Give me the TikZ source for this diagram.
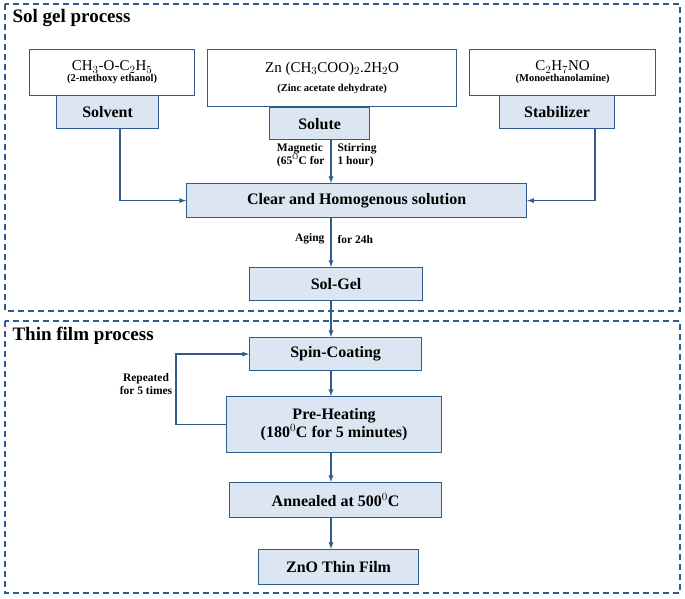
\documentclass[tikz,border=0pt]{standalone}
\usepackage{tikz}
\usepackage{fontspec}
\setmainfont{Liberation Serif}
\usetikzlibrary{calc}
\definecolor{edgeblue}{HTML}{2F5C8C}
\definecolor{paleblue}{HTML}{DCE6F2}
\tikzset{
  box/.style={draw=edgeblue,line width=1.2pt,inner sep=0pt},
  stage/.style={box,fill=paleblue,font=\bfseries\fontsize{16}{18}\selectfont},
  note/.style={font=\bfseries\fontsize{11.5}{13}\selectfont},
  flow/.style={draw=edgeblue,line width=1.3pt,-latex},
  frame/.style={draw=edgeblue,line width=1.6pt,dash pattern=on 6pt off 4pt}
}
\begin{document}
\begin{tikzpicture}[x=1pt,y=-1pt]
		\useasboundingbox (0,0) rectangle (685,598);
		\draw[frame] (5,4) rectangle (680,311);% Sol gel frame
		\draw[frame] (5,321) rectangle (680,593);% Thin film frame
		\node[anchor=north west,font=\bfseries\fontsize{19}{21}\selectfont] (solgel) at (9,6) {Sol gel process};
		\node[anchor=north west,font=\bfseries\fontsize{19}{21}\selectfont] (thinfilm) at (9,324) {Thin film process};

		% raw materials
		\node[box,minimum width=165pt,minimum height=46pt,anchor=north west,align=center] (ether) at (29,49)
			{\fontsize{15}{16}\selectfont CH$_3$-O-C$_2$H$_5$\\[-1pt]\bfseries\fontsize{10.5}{12}\selectfont (2-methoxy ethanol)};
		\node[stage,minimum width=102pt,minimum height=33pt,anchor=north west] (solvent) at (56,95) {Solvent};
		\node[box,minimum width=249pt,minimum height=57pt,anchor=north west,align=center] (zinc) at (207,49)
			{\fontsize{15}{16}\selectfont Zn (CH$_3$COO)$_2$.2H$_2$O\\[7pt]\bfseries\fontsize{10.5}{12}\selectfont (Zinc acetate dehydrate)};
		\node[stage,minimum width=100pt,minimum height=32pt,anchor=north west] (solute) at (269,107) {Solute};
		\node[box,minimum width=186pt,minimum height=46pt,anchor=north west,align=center] (amine) at (469,49)
			{\fontsize{15}{16}\selectfont C$_2$H$_7$NO\\[-1pt]\bfseries\fontsize{10.5}{12}\selectfont (Monoethanolamine)};
		\node[stage,minimum width=115pt,minimum height=33pt,anchor=north west] (stabilizer) at (499,95) {Stabilizer};

		% process steps
		\node[stage,minimum width=340pt,minimum height=34pt,anchor=north west] (clear) at (186,183) {Clear and Homogenous solution};
		\node[stage,minimum width=173pt,minimum height=33pt,anchor=north west] (sg) at (249,267) {Sol-Gel};
		\node[stage,minimum width=172pt,minimum height=33pt,anchor=north west] (spin) at (249,337) {Spin-Coating};
		\node[stage,minimum width=215pt,minimum height=56pt,anchor=north west,align=center] (preheat) at (226,396)
			{Pre-Heating\\(180$^0$C for 5 minutes)};
		\node[stage,minimum width=212pt,minimum height=35pt,anchor=north west] (anneal) at (229,482) {Annealed at 500$^0$C};
		\node[stage,minimum width=160pt,minimum height=35pt,anchor=north west] (zno) at (258,549) {ZnO Thin Film};

		\coordinate (svout) at ($(solvent.south west)+(64,0)$);
		\coordinate (stout) at ($(stabilizer.south west)+(96,0)$);
		\coordinate (axis) at (331,0);
		\draw[flow] (svout) |- (clear.west);
		\draw[flow] (solute.south -| axis) -- (clear.north -| axis);
		\draw[flow] (stout) |- (clear.east);
		\draw[flow] (clear.south -| axis) -- (sg.north -| axis);
		\draw[flow] (sg.south -| axis) -- (spin.north -| axis);
		\draw[flow] (spin.south -| axis) -- (preheat.north -| axis);
		\draw[flow] (preheat.south -| axis) -- (anneal.north -| axis);
		\draw[flow] (anneal.south -| axis) -- (zno.north -| axis);
		\coordinate (loop) at (176,0);
		\draw[flow] (preheat.west) -- (preheat.west -| loop) |- (spin.west);

		% labels
		\node[note,anchor=east,align=left] (mag) at ($(clear.north -| axis)+(-3,-28)$) {Magnetic\\(65$^{\mathrm{O}}$C for};
		\node[note,anchor=west,align=left] (stir) at ($(clear.north -| axis)+(3,-28)$) {Stirring\\1 hour)};
		\node[note,anchor=east] (aging) at ($(clear.south -| axis)+(-3,21)$) {Aging};
		\node[note,anchor=west] (hours) at ($(clear.south -| axis)+(3,21)$) {for 24h};
		\node[note,align=center] (repeat) at (146,384) {Repeated\\for 5 times};
	  \end{tikzpicture}
\end{document}
